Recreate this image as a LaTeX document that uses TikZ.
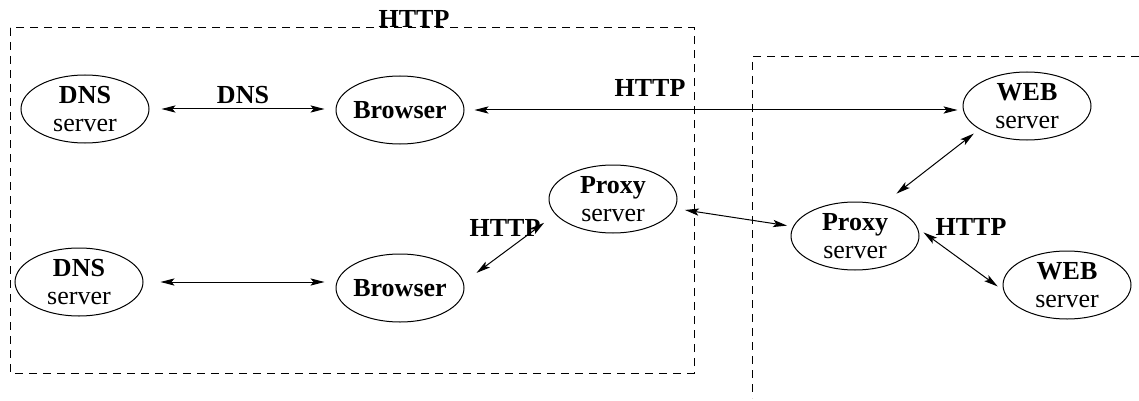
\documentclass[tikz,border=0pt]{standalone}
\usepackage{fontspec}
\setmainfont{Liberation Serif}
\usetikzlibrary{arrows.meta,shapes.geometric}

\tikzset{
  host/.style={draw,ellipse,line width=0.5pt,minimum width=64pt,minimum height=34pt,
    inner xsep=-2pt,inner ysep=-2pt,align=center,font=\fontsize{13}{14}\selectfont},
  proto/.style={anchor=base,font=\fontsize{13}{14}\selectfont\bfseries,inner sep=0pt},
  link/.style={<->,line width=0.5pt},
  zone/.style={dashed,line width=0.5pt,dash pattern=on 4pt off 3pt}
}

\begin{document}
\begin{tikzpicture}[x=0.5pt,y=-0.5pt,>={Stealth[length=7pt,width=3.6pt,inset=1.5pt]}]
\useasboundingbox (0,0) rectangle (1139,401);
% boxes
\draw[zone] (10,28) rectangle (694,373);
\draw[zone] (1139,57) -- (752,57) -- (752,398);
\node[proto] (httpbox) at (414,28) {HTTP};
% hosts
\node[host] (dns1) at (85,109) {\textbf{DNS}\\server};
\node[host] (browser1) at (400,110) {\textbf{Browser}};
\node[host] (dns2) at (79,282) {\textbf{DNS}\\server};
\node[host] (browser2) at (400,288) {\textbf{Browser}};
\node[host] (proxyL) at (613,199) {\textbf{Proxy}\\server};
\node[host] (proxyR) at (855,236) {\textbf{Proxy}\\server};
\node[host] (web1) at (1027,106) {\textbf{WEB}\\server};
\node[host] (web2) at (1067,285) {\textbf{WEB}\\server};
% protocol labels
\node[proto] (dnslbl) at (243,104) {DNS};
\node[proto] (httptop) at (650,97) {HTTP};
\node[proto] (httpmid) at (505,236) {HTTP};
\node[proto] (httpright) at (971,235) {HTTP};
% links
\draw[link,shorten <=6pt,shorten >=5.5pt] (dns1.east) -- (dns1.east -| browser1.west);
\draw[link,shorten <=8.5pt,shorten >=5.5pt] (dns2.east) -- (dns2.east -| browser2.west);
\draw[link,shorten <=5pt,shorten >=2.5pt] (browser1.east) -- (browser1.east -| web1.west);
\draw[link,shorten <=8pt,shorten >=7pt] (browser2.5) -- (proxyL.195);
\draw[link,shorten <=5pt,shorten >=3pt] (proxyL) -- (proxyR);
\draw[link,shorten <=3.5pt,shorten >=9pt] (web1.206) -- (proxyR.49);
\draw[link,shorten <=3.5pt,shorten >=3.5pt] (proxyR.7) -- (web2.185);
\end{tikzpicture}
\end{document}
